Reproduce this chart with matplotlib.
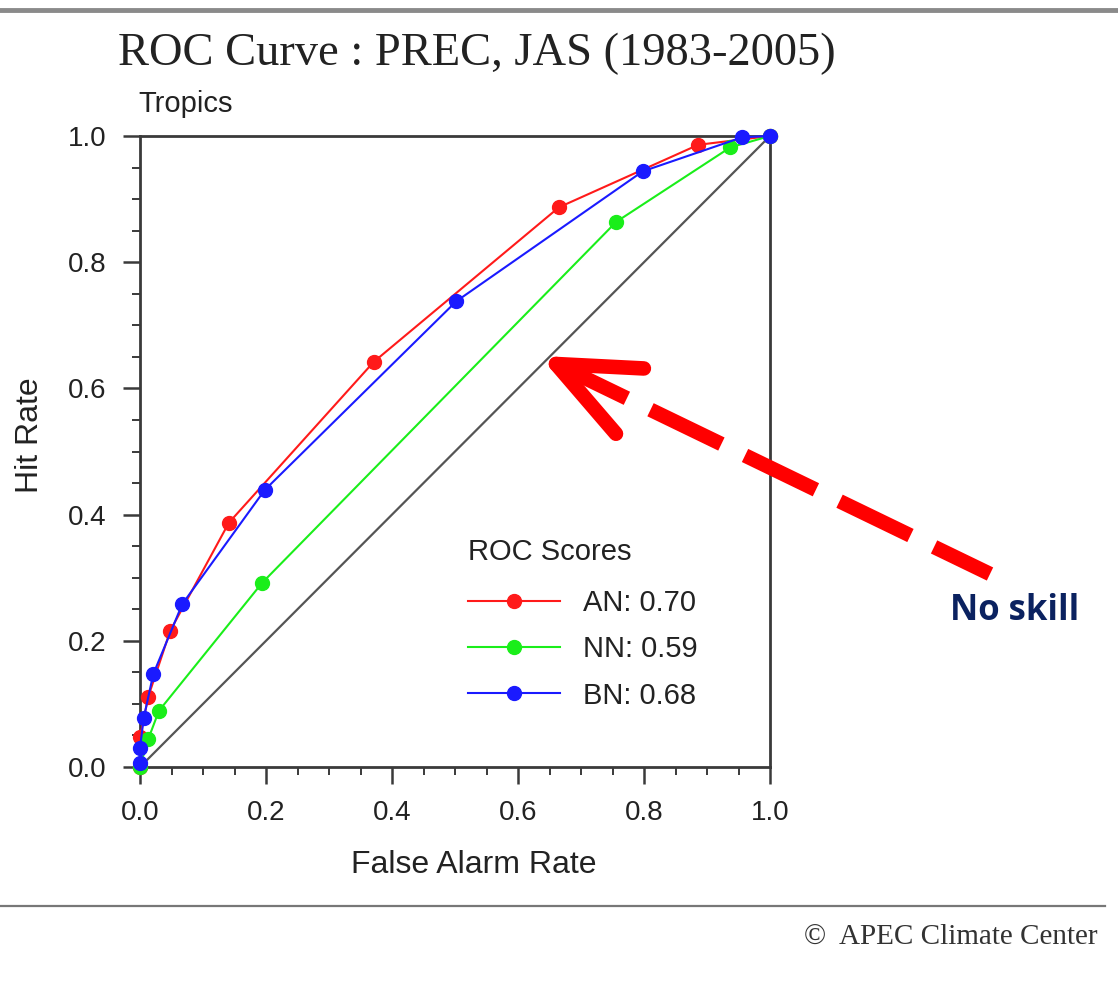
import numpy as np
import matplotlib
matplotlib.use("Agg")
import matplotlib.pyplot as plt
from matplotlib.lines import Line2D
from matplotlib.ticker import MultipleLocator

# ROC points (false alarm rate, hit rate)
an_far = [0.0, 0.0, 0.013, 0.048, 0.141, 0.371, 0.665, 0.886, 1.0]
an_hr = [0.0, 0.047, 0.111, 0.216, 0.387, 0.642, 0.887, 0.986, 1.0]
nn_far = [0.0, 0.013, 0.030, 0.194, 0.756, 0.937, 1.0]
nn_hr = [0.0, 0.044, 0.089, 0.292, 0.864, 0.982, 1.0]
bn_far = [0.0, 0.0, 0.006, 0.021, 0.067, 0.198, 0.502, 0.798, 0.956, 1.0]
bn_hr = [0.006, 0.030, 0.078, 0.147, 0.258, 0.439, 0.738, 0.944, 0.998, 1.0]
scores = {"AN": 0.70, "NN": 0.59, "BN": 0.68}
ticks = [0.0, 0.2, 0.4, 0.6, 0.8, 1.0]

W, H = 1118, 985
fig = plt.figure(figsize=(W / 100, H / 100), dpi=100)
sans = "Liberation Sans"
serif = "Liberation Serif"
ink = "#222222"

ax = fig.add_axes([140 / W, 1 - 767 / H, 630 / W, 631 / H])
ax.set_xlim(0, 1)
ax.set_ylim(0, 1)

ax.plot([0, 1], [0, 1], color="#555555", lw=1.6, zorder=2)
series = [("AN", an_far, an_hr, "#ff1a1a"),
          ("NN", nn_far, nn_hr, "#1aee1a"),
          ("BN", bn_far, bn_hr, "#1a1aff")]
for name, fx, hy, col in series:
    ax.plot(fx, hy, color=col, lw=1.5, marker="o", ms=10, mec=col, mfc=col,
            label=f"{name}: {scores[name]:.2f}", clip_on=False, zorder=3)

for s in ax.spines.values():
    s.set_color("#3a3a3a")
    s.set_linewidth(2.0)

ax.set_xticks(ticks)
ax.set_yticks(ticks)
ax.set_xticklabels([f"{t:.1f}" for t in ticks])
ax.set_yticklabels([f"{t:.1f}" for t in ticks])
ax.xaxis.set_minor_locator(MultipleLocator(0.05))
ax.yaxis.set_minor_locator(MultipleLocator(0.05))
ax.tick_params(which="major", direction="out", length=12, width=1.8, color="#3a3a3a",
               labelsize=20, pad=12, labelcolor=ink)
ax.tick_params(which="minor", direction="out", length=6, width=1.4, color="#3a3a3a")
for lab in ax.get_xticklabels() + ax.get_yticklabels():
    lab.set_fontfamily(sans)

ax.set_xlabel("False Alarm Rate", fontsize=23, family=sans, color=ink)
ax.set_ylabel("Hit Rate", fontsize=23, family=sans, color=ink)
ax.xaxis.set_label_coords(0.530, -0.131)
ax.yaxis.set_label_coords(-0.150, 0.526)

leg = ax.legend(loc="upper left", bbox_to_anchor=((468 - 140) / 630, (767 - 538) / 631),
                frameon=False, title="ROC Scores", handlelength=3.15, handletextpad=0.8,
                labelspacing=0.62, borderpad=0, borderaxespad=0,
                prop={"family": sans, "size": 21},
                title_fontproperties={"family": sans, "size": 21})
leg._legend_box.align = "left"
leg._legend_box.sep = 16.8
for t in leg.get_texts():
    t.set_color(ink)
leg.get_title().set_color(ink)

# figure-level text
fig.text(477 / W, 1 - 54 / H, "ROC Curve : PREC, JAS (1983-2005)", family=serif,
         fontsize=33.5, ha="center", va="center", color=ink)
fig.text(138 / W, 1 - 104 / H, "Tropics", family=sans, fontsize=21,
         ha="left", va="center", color=ink)
fig.text(1097 / W, 1 - 937 / H, "\u00a9  APEC Climate Center", family=serif,
         fontsize=21, ha="right", va="center", color="#333333")
fig.text(1015 / W, 1 - 611 / H, "No skill", family="Open Sans", weight="bold",
         fontsize=25, ha="center", va="center", color="#0b2260")

# frame lines
fig.add_artist(Line2D([0, 1], [1 - 10 / H, 1 - 10 / H], color="#8a8a8a", lw=3.5))
fig.add_artist(Line2D([0, 1105 / W], [1 - 906 / H, 1 - 906 / H], color="#777777", lw=1.6))

# red dashed arrow pointing at the no-skill diagonal (pixel coords)
tip = np.array([556.0, 364.0])
tail = np.array([990.0, 574.0])
d = (tail - tip) / np.linalg.norm(tail - tip)
fig.add_artist(Line2D([tip[0] / W, tail[0] / W], [1 - tip[1] / H, 1 - tail[1] / H],
                      color="#ff0000", lw=10.5, dashes=(5.4, 1.8), dash_capstyle="butt"))
ang = np.arctan2(d[1], d[0])
for da, length in ((-0.40, 88), (0.41, 92)):
    a = ang + da
    end = tip + length * np.array([np.cos(a), np.sin(a)])
    fig.add_artist(Line2D([tip[0] / W, end[0] / W], [1 - tip[1] / H, 1 - end[1] / H],
                          color="#ff0000", lw=10.5, solid_capstyle="round"))

fig.savefig("out.png", dpi=100)
